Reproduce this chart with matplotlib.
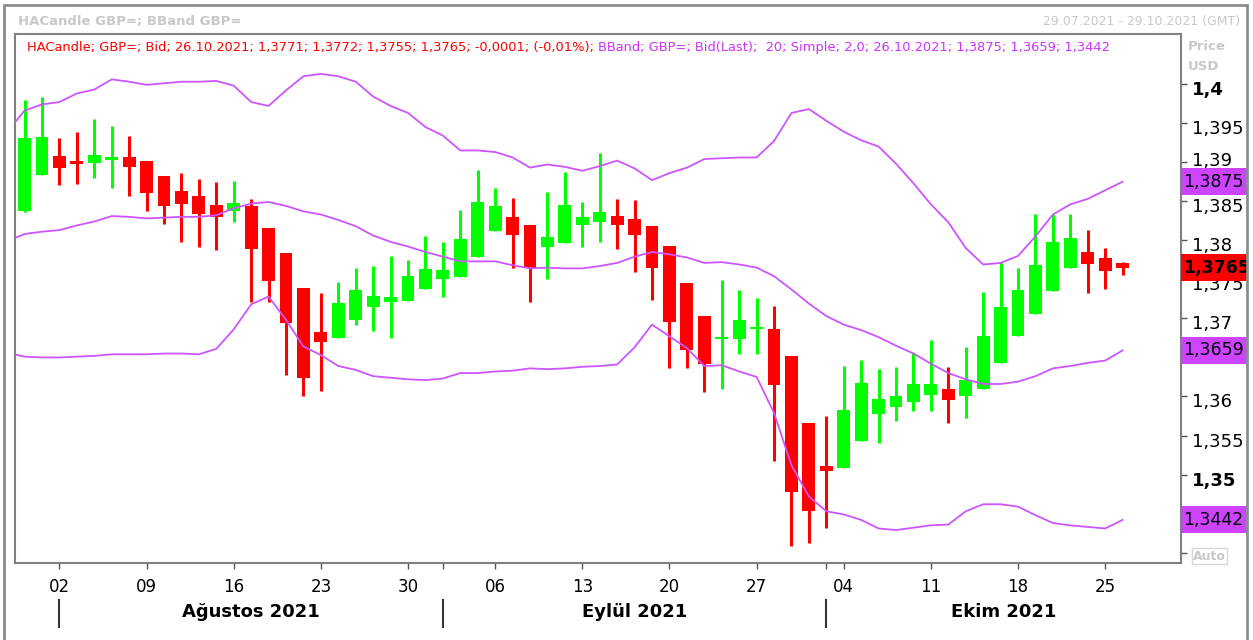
import matplotlib
matplotlib.use('Agg')
import matplotlib.pyplot as plt
import matplotlib.transforms as mtransforms
from matplotlib.patches import Rectangle
import pandas as pd

plt.rcParams['font.family'] = 'DejaVu Sans'

# Heikin-Ashi candles, GBP/USD (Bid), 29.07.2021 - 26.10.2021
dates = pd.bdate_range('2021-07-29', '2021-10-26')
ha_open = [1.3837, 1.3884, 1.3908, 1.3902, 1.3899, 1.3903, 1.3906, 1.3902, 1.3882, 1.3863,
           1.3857, 1.3845, 1.3838, 1.3844, 1.3816, 1.3784, 1.3739, 1.3683, 1.3675, 1.3698,
           1.3715, 1.3721, 1.3722, 1.3738, 1.3750, 1.3753, 1.3778, 1.3812, 1.3830, 1.3820,
           1.3791, 1.3796, 1.3820, 1.3823, 1.3831, 1.3827, 1.3818, 1.3793, 1.3745, 1.3703,
           1.3673, 1.3673, 1.3686, 1.3686, 1.3652, 1.3566, 1.3511, 1.3508, 1.3543, 1.3578,
           1.3587, 1.3593, 1.3602, 1.3610, 1.3601, 1.3610, 1.3643, 1.3678, 1.3706, 1.3735,
           1.3765, 1.3785, 1.3777, 1.3771]
ha_high = [1.3980, 1.3983, 1.3931, 1.3938, 1.3955, 1.3946, 1.3934, 1.3902, 1.3882, 1.3886,
           1.3878, 1.3875, 1.3876, 1.3853, 1.3816, 1.3784, 1.3739, 1.3733, 1.3747, 1.3765,
           1.3767, 1.3780, 1.3775, 1.3806, 1.3798, 1.3839, 1.3890, 1.3867, 1.3854, 1.3820,
           1.3862, 1.3887, 1.3849, 1.3912, 1.3853, 1.3852, 1.3818, 1.3793, 1.3745, 1.3703,
           1.3749, 1.3736, 1.3726, 1.3716, 1.3652, 1.3566, 1.3575, 1.3639, 1.3647, 1.3635,
           1.3638, 1.3656, 1.3672, 1.3638, 1.3663, 1.3734, 1.3772, 1.3765, 1.3833, 1.3833,
           1.3833, 1.3813, 1.3790, 1.3772]
ha_low = [1.3836, 1.3884, 1.3871, 1.3872, 1.3880, 1.3867, 1.3857, 1.3837, 1.3821, 1.3798,
          1.3791, 1.3787, 1.3824, 1.3721, 1.3721, 1.3628, 1.3600, 1.3607, 1.3675, 1.3692,
          1.3684, 1.3675, 1.3722, 1.3738, 1.3727, 1.3753, 1.3778, 1.3812, 1.3764, 1.3721,
          1.3751, 1.3796, 1.3792, 1.3798, 1.3789, 1.3760, 1.3723, 1.3637, 1.3637, 1.3606,
          1.3609, 1.3654, 1.3654, 1.3517, 1.3409, 1.3413, 1.3431, 1.3508, 1.3543, 1.3541,
          1.3568, 1.3581, 1.3581, 1.3566, 1.3572, 1.3610, 1.3643, 1.3678, 1.3706, 1.3735,
          1.3765, 1.3733, 1.3738, 1.3755]
ha_close = [1.3931, 1.3932, 1.3893, 1.3898, 1.3909, 1.3906, 1.3894, 1.3860, 1.3844, 1.3846,
            1.3834, 1.3830, 1.3848, 1.3789, 1.3748, 1.3694, 1.3624, 1.3670, 1.3720, 1.3736,
            1.3729, 1.3727, 1.3754, 1.3763, 1.3762, 1.3802, 1.3849, 1.3844, 1.3807, 1.3765,
            1.3804, 1.3845, 1.3830, 1.3836, 1.3820, 1.3807, 1.3765, 1.3696, 1.3659, 1.3642,
            1.3676, 1.3698, 1.3689, 1.3615, 1.3478, 1.3454, 1.3504, 1.3583, 1.3617, 1.3597,
            1.3601, 1.3616, 1.3616, 1.3595, 1.3621, 1.3677, 1.3715, 1.3736, 1.3768, 1.3798,
            1.3803, 1.3770, 1.3761, 1.3765]

# Bollinger bands (20, 2.0), first value is 28.07.2021
bb_upper = [1.3939, 1.3966, 1.3974, 1.3977, 1.3988, 1.3993, 1.4006, 1.4003, 1.3999, 1.4001,
            1.4003, 1.4003, 1.4004, 1.3998, 1.3977, 1.3972, 1.3992, 1.4010, 1.4013, 1.4010,
            1.4003, 1.3984, 1.3972, 1.3963, 1.3945, 1.3934, 1.3915, 1.3915, 1.3913, 1.3906,
            1.3893, 1.3897, 1.3894, 1.3889, 1.3895, 1.3902, 1.3892, 1.3877, 1.3886, 1.3893,
            1.3904, 1.3905, 1.3906, 1.3906, 1.3927, 1.3963, 1.3968, 1.3953, 1.3939, 1.3928,
            1.3920, 1.3898, 1.3873, 1.3846, 1.3823, 1.3790, 1.3769, 1.3771, 1.3780, 1.3805,
            1.3833, 1.3846, 1.3853, 1.3864, 1.3875]
bb_mid = [1.3799, 1.3808, 1.3811, 1.3813, 1.3819, 1.3824, 1.3831, 1.3830, 1.3828, 1.3829,
          1.3830, 1.3830, 1.3832, 1.3841, 1.3847, 1.3849, 1.3844, 1.3837, 1.3833, 1.3826,
          1.3818, 1.3806, 1.3798, 1.3792, 1.3785, 1.3779, 1.3773, 1.3773, 1.3773, 1.3768,
          1.3764, 1.3765, 1.3764, 1.3764, 1.3767, 1.3771, 1.3779, 1.3785, 1.3782, 1.3778,
          1.3771, 1.3772, 1.3769, 1.3765, 1.3754, 1.3737, 1.3719, 1.3703, 1.3692, 1.3685,
          1.3676, 1.3665, 1.3655, 1.3642, 1.3630, 1.3622, 1.3616, 1.3616, 1.3619, 1.3626,
          1.3636, 1.3639, 1.3643, 1.3646, 1.3659]
bb_lower = [1.3656, 1.3651, 1.3650, 1.3650, 1.3651, 1.3652, 1.3654, 1.3654, 1.3654, 1.3655,
            1.3655, 1.3654, 1.3661, 1.3686, 1.3718, 1.3728, 1.3698, 1.3664, 1.3653, 1.3639,
            1.3634, 1.3626, 1.3624, 1.3622, 1.3621, 1.3623, 1.3630, 1.3630, 1.3632, 1.3633,
            1.3636, 1.3635, 1.3636, 1.3638, 1.3639, 1.3641, 1.3663, 1.3692, 1.3677, 1.3662,
            1.3639, 1.3640, 1.3632, 1.3625, 1.3579, 1.3512, 1.3472, 1.3453, 1.3449, 1.3442,
            1.3431, 1.3429, 1.3432, 1.3435, 1.3436, 1.3453, 1.3462, 1.3462, 1.3459, 1.3448,
            1.3438, 1.3435, 1.3433, 1.3431, 1.3442]

month_names = {8: 'Ağustos', 9: 'Eylül', 10: 'Ekim'}
y_ticks = [1.34, 1.345, 1.35, 1.355, 1.36, 1.365, 1.37, 1.375, 1.38, 1.385, 1.39, 1.395, 1.4]

W, H = 1253, 640
GREEN = '#00ff00'
RED = '#ff0000'
BAND = '#cc55ff'
BOXMAG = '#cc44ff'
LGRAY = '#c8c8c8'

fig = plt.figure(figsize=(W / 100, H / 100), dpi=100)
ax_l, ax_r, ax_t, ax_b = 15, 1181, 34, 563
ax = fig.add_axes([ax_l / W, 1 - ax_b / H, (ax_r - ax_l) / W, (ax_b - ax_t) / H])

def fy(py):
    return 1 - py / H

n = len(ha_close)
xs = list(range(n))

# candles
for i in xs:
    up = ha_close[i] >= ha_open[i]
    col = GREEN if up else RED
    ax.vlines(i, ha_low[i], ha_high[i], color=col, lw=2.2, zorder=2)
    lo = min(ha_open[i], ha_close[i])
    hgt = max(abs(ha_close[i] - ha_open[i]), 0.0003)
    ax.bar(i, hgt, bottom=lo, width=0.74, color=col, linewidth=0, zorder=3)

# bands
bx = list(range(-1, n))
for band in (bb_upper, bb_mid, bb_lower):
    ax.plot(bx, band, color=BAND, lw=1.3, zorder=4)

ymin, ymax = 1.33868, 1.40641
ax.set_xlim(-0.55, 66.35)
ax.set_ylim(ymin, ymax)

for s in ax.spines.values():
    s.set_color('#808080')
    s.set_linewidth(1.5)

# value boxes on the price scale (last values)
box_vals = [bb_upper[-1], bb_mid[-1], bb_lower[-1], ha_close[-1]]

# y axis on the right
ax.yaxis.tick_right()
ax.set_yticks(y_ticks)
labels = []
for v in y_ticks:
    s = ('%.3f' % v).rstrip('0').rstrip('.').replace('.', ',')
    hidden = abs(v - 1.34) < 1e-9 or any(abs(v - b) < 0.0011 for b in box_vals)
    labels.append('' if hidden else s)
ax.set_yticklabels(labels)
ax.tick_params(axis='y', length=4, width=1, color='#555555', pad=4, labelsize=13)
for v, lab in zip(y_ticks, ax.get_yticklabels()):
    # labels sit a little below their tick, except where a value box is just under it
    near_box = any(0 < v - b < 0.0026 for b in box_vals)
    dy = 3 if near_box else -4
    lab.set_transform(lab.get_transform() +
                      mtransforms.ScaledTranslation(0, dy / 100, fig.dpi_scale_trans))
    if abs(v - 1.4) < 1e-9 or abs(v - 1.35) < 1e-9:
        lab.set_fontweight('bold')

# x axis: Monday ticks and month starts
mondays = [i for i, d in enumerate(dates) if d.dayofweek == 0]
month_first = [i for i in range(1, n) if dates[i].month != dates[i - 1].month]
ax.set_xticks(sorted(set(mondays + month_first)))
ax.set_xticklabels([])
ax.tick_params(axis='x', length=4, width=1, color='#555555')

bt = mtransforms.blended_transform_factory(ax.transData, fig.transFigure)
for i in mondays:
    ax.text(i, fy(587), dates[i].strftime('%d'), transform=bt, ha='center', va='center',
            fontsize=12, clip_on=False)
edges = month_first + [ax.get_xlim()[1]]
for k, i in enumerate(month_first):
    ax.plot([i, i], [fy(600), fy(627)], transform=bt, color='#333333', lw=1.5, clip_on=False)
    mid = (i + edges[k + 1]) / 2
    ax.text(mid, fy(612), '%s %d' % (month_names[dates[i].month], dates[i].year), transform=bt,
            ha='center', va='center', fontsize=13, fontweight='bold', clip_on=False)

ppu = (ax_b - ax_t) / (ymax - ymin)
bh = 27 / ppu
rt = mtransforms.blended_transform_factory(ax.transAxes, ax.transData)
bw = 66 / (ax_r - ax_l)
for val, fc, bold in zip(box_vals, [BOXMAG, BOXMAG, BOXMAG, RED], [False, False, False, True]):
    ax.add_patch(Rectangle((1.0, val - bh / 2), bw, bh, transform=rt, facecolor=fc,
                           edgecolor='none', clip_on=False, zorder=10))
    ax.text(1.0 + 2 / (ax_r - ax_l), val, ('%.4f' % val).replace('.', ','), transform=rt,
            ha='left', va='center', fontsize=12.5, fontweight='bold' if bold else 'normal',
            color='black', clip_on=False, zorder=11)

# header texts
fig.text(18 / W, fy(22), 'HACandle GBP=; BBand GBP=', color=LGRAY, fontsize=9.5,
         fontweight='bold', va='center')
fig.text(1240 / W, fy(22), '29.07.2021 - 29.10.2021 (GMT)', color=LGRAY, fontsize=9,
         ha='right', va='center')
fig.text(1188 / W, fy(46), 'Price', color=LGRAY, fontsize=9.5, fontweight='bold', va='center')
fig.text(1188 / W, fy(66), 'USD', color=LGRAY, fontsize=9.5, fontweight='bold', va='center')
fig.text(1193 / W, fy(556), 'Auto', color=LGRAY, fontsize=9, fontweight='bold', va='center',
         bbox=dict(boxstyle='square,pad=0.12', fc='white', ec='#d8d8d8', lw=1))

t1 = fig.text(27 / W, fy(48), 'HACandle; GBP=; Bid; 26.10.2021; 1,3771; 1,3772; 1,3755; 1,3765; '
              '-0,0001; (-0,01%); ', color='#ff0000', fontsize=9.4, va='center')
ax.annotate('BBand; GBP=; Bid(Last);  20; Simple; 2,0; 26.10.2021; 1,3875; 1,3659; 1,3442',
            xy=(1, 0.5), xycoords=t1, va='center', ha='left', color='#cc33ff', fontsize=9.4)

# outer frame
fig.add_artist(Rectangle((4 / W, -0.02), (1247 - 4) / W, 1 - 5 / H + 0.02,
                         transform=fig.transFigure, fill=False, ec='#8c8c8c', lw=2, zorder=20))
fig.add_artist(Rectangle((1248 / W, 0), 5 / W, 1, transform=fig.transFigure,
                         fc='white', ec='none', zorder=19))

fig.savefig('out.png', dpi=100)
